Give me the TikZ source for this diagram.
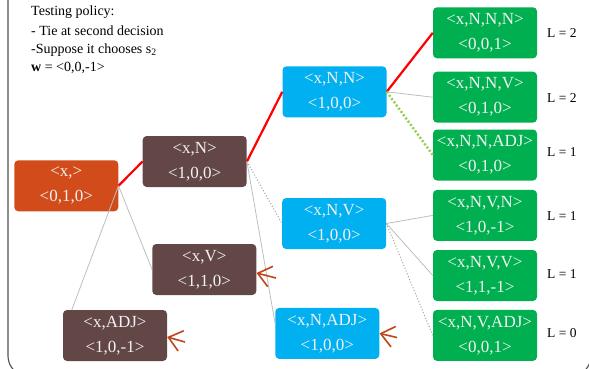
\documentclass[tikz,border=0pt]{standalone}
\usepackage{fontspec}
\setmainfont{Liberation Serif}
\usetikzlibrary{arrows.meta,calc}
\definecolor{orangefill}{RGB}{209,76,26}
\definecolor{brownfill}{RGB}{99,71,71}
\definecolor{bluefill}{RGB}{0,176,240}
\definecolor{greenfill}{RGB}{0,176,80}
\definecolor{nodetext}{RGB}{242,242,242}
\definecolor{arrowred}{RGB}{192,68,24}
\definecolor{lightgreen}{RGB}{146,208,80}
\definecolor{framegray}{RGB}{80,80,80}
\definecolor{linegray}{RGB}{190,190,190}
\definecolor{dotgray}{RGB}{160,160,160}
\begin{document}
\begin{tikzpicture}[x=1pt,y=-1pt,
  statebox/.style={rounded corners=4pt, minimum width=104pt, minimum height=51pt,
    inner sep=0pt, align=center, text=nodetext, font=\fontsize{17}{25}\selectfont},
  orangebox/.style={statebox, fill=orangefill},
  brownbox/.style={statebox, fill=brownfill},
  bluebox/.style={statebox, fill=bluefill},
  greenbox/.style={statebox, fill=greenfill},
  infotext/.style={anchor=west, inner sep=0pt, font=\fontsize{14}{16}\selectfont},
  lenlabel/.style={anchor=west, inner sep=0pt, font=\fontsize{13.5}{15}\selectfont},
  redline/.style={draw=red, line width=2.2pt},
  grayline/.style={draw=linegray, line width=0.8pt},
  graydot/.style={draw=dotgray, line width=1pt, dotted},
  greendot/.style={draw=lightgreen, line width=2.5pt, dash pattern=on 2pt off 2pt},
  bigarrow/.style={draw=arrowred, line width=1.6pt, -{Straight Barb[length=13pt,width=21pt,line width=1.6pt]}}
]
\useasboundingbox (0,0) rectangle (589,369);
% frame
\draw[framegray, line width=1.1pt, rounded corners=20pt] (8,-30) -- (8,376) -- (591,376) -- (591,-30);

% info text
\node[infotext] (t1) at (31,12) {Testing policy:};
\node[infotext] (t2) at (31,31) {- Tie at second decision};
\node[infotext] (t3) at (31,50) {-Suppose it chooses s\textsubscript{2}};
\node[infotext] (t4) at (31,68) {\textbf{w} = <0,0,-1>};

% nodes
\node[orangebox] (root) at (66.3,185.8) {<x,>\\<0,1,0>};
\node[brownbox] (xN) at (194.7,161.5) {<x,N>\\<1,0,0>};
\node[brownbox] (xV) at (204.3,269.5) {<x,V>\\<1,1,0>};
\node[brownbox] (xADJ) at (115,335.5) {<x,ADJ>\\<1,0,-1>};
\node[bluebox] (xNN) at (334.5,91.8) {<x,N,N>\\<1,0,0>};
\node[bluebox] (xNV) at (334.2,223.5) {<x,N,V>\\<1,0,0>};
\node[bluebox] (xNADJ) at (327.3,333.4) {<x,N,ADJ>\\<1,0,0>};
\node[greenbox] (xNNN) at (485,32.8) {<x,N,N,N>\\<0,0,1>};
\node[greenbox] (xNNV) at (485,97.2) {<x,N,N,V>\\<0,1,0>};
\node[greenbox] (xNNADJ) at (485,155) {<x,N,N,ADJ>\\<0,1,0>};
\node[greenbox] (xNVN) at (485,215.4) {<x,N,V,N>\\<1,0,-1>};
\node[greenbox] (xNVV) at (485,275.5) {<x,N,V,V>\\<1,1,-1>};
\node[greenbox] (xNVADJ) at (485,335.4) {<x,N,V,ADJ>\\<0,0,1>};

% length labels
\node[lenlabel] (L1) at (547,33) {L = 2};
\node[lenlabel] (L2) at (547,98) {L = 2};
\node[lenlabel] (L3) at (547,152) {L = 1};
\node[lenlabel] (L4) at (547,216) {L = 1};
\node[lenlabel] (L5) at (547,274) {L = 1};
\node[lenlabel] (L6) at (547,333) {L = 0};

% connectors
\draw[redline] (root.east) -- (xN.west);
\draw[grayline] (root.east) -- (xV.west);
\draw[grayline] (root.east) -- ([xshift=9pt]xADJ.north west);
\draw[redline] (xN.east) -- (xNN.west);
\draw[graydot] (xN.east) -- (xNV.west);
\draw[grayline] (xN.east) -- ([yshift=10pt]xNADJ.west);
\draw[redline] (xNN.east) -- (xNNN.west);
\draw[grayline] (xNN.east) -- (xNNV.west);
\draw[greendot] (xNN.east) -- (xNNADJ.west);
\draw[grayline] (xNV.east) -- (xNVN.west);
\draw[grayline] (xNV.east) -- (xNVV.west);
\draw[graydot] (xNV.east) -- (xNVADJ.west);

% pointer arrows
\coordinate (a1) at (276,278);
\coordinate (a2) at (185,342);
\coordinate (a3) at (397,337.5);
\draw[bigarrow] (a1) -- ([yshift=-3.5pt]xV.east);
\draw[bigarrow] (a2) -- ([yshift=-1.5pt]xADJ.east);
\draw[bigarrow] (a3) -- ([yshift=0pt]xNADJ.east);
\end{tikzpicture}
\end{document}
